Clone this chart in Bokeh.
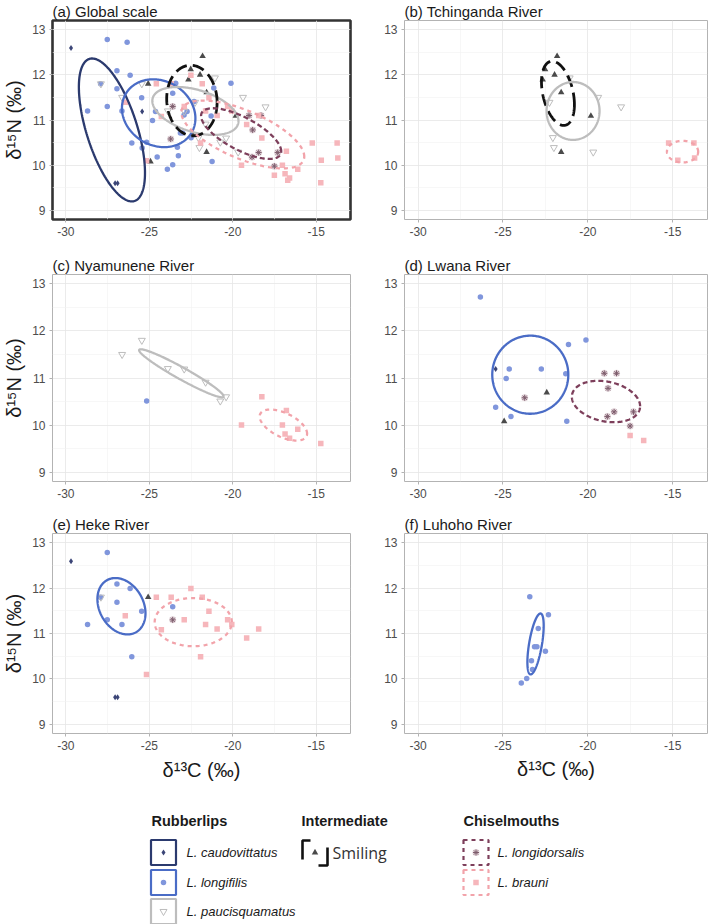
import numpy as np
from bokeh.plotting import figure
from bokeh.layouts import column, row
from bokeh.models import Range1d, FixedTicker
from bokeh.core.properties import value
from bokeh.embed import file_html
from bokeh.resources import INLINE

# ---------------- isotope data per river (d13C, d15N, permil) ----------------
# Tchinganda River
tch_smiling_c = [-21.81, -22.52, -21.96, -22.66, -21.57, -19.82, -21.57]
tch_smiling_n = [12.41, 12.12, 12.00, 11.89, 11.61, 11.09, 10.29]
tch_pauci_c = [-22.06, -22.00, -19.68, -18.04, -19.39, -22.26, -21.07]
tch_pauci_n = [10.61, 10.39, 10.29, 11.29, 11.50, 11.39, 11.93]
tch_brauni_c = [-15.24, -13.75, -14.70, -13.71]
tch_brauni_n = [10.49, 10.49, 10.11, 10.16]

# Nyamunene River
nya_pauci_c = [-25.45, -26.63, -23.89, -22.91, -21.63, -20.75, -20.40]
nya_pauci_n = [11.80, 11.50, 11.20, 11.19, 10.91, 10.51, 10.60]
nya_longi_c = [-25.16]
nya_longi_n = [10.51]
nya_brauni_c = [-18.26, -19.48, -16.79, -17.03, -16.87, -16.11, -16.60, -14.73]
nya_brauni_n = [10.60, 10.00, 10.31, 10.00, 9.81, 9.91, 9.72, 9.61]

# Lwana River
lwa_caudo_c = [-25.43]
lwa_caudo_n = [11.19]
lwa_longi_c = [-26.33, -20.11, -21.14, -24.63, -22.74, -24.81, -21.30, -25.43, -24.53, -21.24]
lwa_longi_n = [12.72, 11.81, 11.71, 11.19, 11.19, 10.99, 11.09, 10.38, 10.18, 10.08]
lwa_smiling_c = [-22.42, -24.93]
lwa_smiling_n = [10.69, 10.08]
lwa_longid_c = [-23.72, -19.03, -18.31, -18.81, -18.45, -18.85, -17.31, -17.51]
lwa_longid_n = [10.58, 11.10, 11.10, 10.78, 10.28, 10.18, 10.28, 9.98]
lwa_brauni_c = [-17.51, -16.71]
lwa_brauni_n = [9.78, 9.67]

# Heke River
hek_caudo_c = [-29.69, -27.05, -26.90]
hek_caudo_n = [12.59, 9.60, 9.60]
hek_longi_c = [-27.52, -26.94, -26.15, -27.92, -26.94, -25.46, -27.52, -26.64, -28.70, -26.05, -23.60]
hek_longi_n = [12.78, 12.09, 11.99, 11.80, 11.69, 11.49, 11.30, 11.20, 11.20, 10.49, 11.59]
hek_pauci_c = [-27.90]
hek_pauci_n = [11.80]
hek_smiling_c = [-25.07]
hek_smiling_n = [11.80]
hek_longid_c = [-23.60]
hek_longid_n = [11.30]
hek_brauni_c = [-24.58, -23.69, -22.51, -21.83, -21.43, -22.91, -26.44, -21.63, -20.31, -20.94,
                -24.28, -19.17, -18.45, -21.93, -25.17, -20.06]
hek_brauni_n = [11.80, 11.80, 11.99, 11.80, 11.49, 11.30, 11.39, 11.20, 11.30, 11.10,
                11.08, 10.90, 11.10, 10.49, 10.10, 11.20]

# Luhoho River
luh_longi_c = [-23.42, -22.32, -22.92, -23.14, -23.00, -22.50, -23.32, -23.60, -23.92, -23.26]
luh_longi_n = [11.81, 11.41, 11.11, 10.71, 10.71, 10.61, 10.40, 10.01, 9.91, 10.21]

# ---------------- standard ellipses: centre, spread and correlation ----------------
ell_panel = ["a", "a", "a", "a", "a", "a", "b", "b", "b", "c", "c", "d", "d", "e", "e", "f"]
ell_species = ["caudo", "longi", "pauci", "smiling", "longid", "brauni",
               "smiling", "pauci", "brauni",
               "pauci", "brauni",
               "longi", "longid",
               "longi", "brauni",
               "longi"]
ell_cx = [-27.24, -24.44, -22.24, -22.45, -19.50, -19.40, -21.76, -20.87, -14.42, -23.08, -16.97, -23.39, -18.93, -26.67, -22.37, -23.08]
ell_cy = [10.78, 11.15, 11.20, 11.43, 10.70, 10.68, 11.59, 11.20, 10.30, 11.10, 10.00, 11.07, 10.50, 11.60, 11.25, 10.77]
ell_sx = [1.98, 2.20, 2.58, 1.51, 2.40, 3.68, 0.97, 1.56, 0.92, 2.53, 1.42, 2.24, 2.01, 1.44, 2.31, 0.48]
ell_sy = [1.58, 0.75, 0.53, 0.78, 0.56, 0.75, 0.71, 0.64, 0.24, 0.51, 0.33, 0.83, 0.44, 0.62, 0.53, 0.67]
ell_rho = [-0.60, -0.15, -0.42, -0.05, -0.70, -0.65, -0.35, 0.0, 0.0, -0.96, -0.55, 0.0, -0.23, -0.25, 0.0, 0.60]

x_ticks = [-30, -25, -20, -15]
y_ticks = [9, 10, 11, 12, 13]

FONT = "Liberation Sans"

POINT_STYLE = {
    "caudo": dict(marker="diamond", size=6, fill_color="#3b4577", line_color=None),
    "longi": dict(marker="circle", size=5.5, fill_color="#8096dc", line_color=None),
    "pauci": dict(marker="inverted_triangle", size=7, fill_color=None, line_color="#bdbdbd", line_width=1),
    "smiling": dict(marker="triangle", size=6.5, fill_color="#4a4a4a", line_color=None),
    "brauni": dict(marker="square", size=5.5, fill_color="#f6b6bb", line_color=None),
}

ELL_STYLE = {
    "caudo": dict(line_color="#2b3a6e", line_width=2.3, line_dash="solid"),
    "longi": dict(line_color="#4a6cc6", line_width=2.3, line_dash="solid"),
    "pauci": dict(line_color="#bdbdbd", line_width=2.3, line_dash="solid"),
    "smiling": dict(line_color="#111111", line_width=2.8, line_dash="12 6"),
    "longid": dict(line_color="#7d3f5b", line_width=2.3, line_dash="5 3"),
    "brauni": dict(line_color="#f2a3aa", line_width=2.3, line_dash="4 4"),
}


def cat(*lists):
    return [v for lst in lists for v in lst]


# groups drawn in each panel: (species, d13C list, d15N list)
panel_points = {
    "b": [("pauci", tch_pauci_c, tch_pauci_n), ("smiling", tch_smiling_c, tch_smiling_n),
          ("brauni", tch_brauni_c, tch_brauni_n)],
    "c": [("longi", nya_longi_c, nya_longi_n), ("pauci", nya_pauci_c, nya_pauci_n),
          ("brauni", nya_brauni_c, nya_brauni_n)],
    "d": [("caudo", lwa_caudo_c, lwa_caudo_n), ("longi", lwa_longi_c, lwa_longi_n),
          ("smiling", lwa_smiling_c, lwa_smiling_n), ("longid", lwa_longid_c, lwa_longid_n),
          ("brauni", lwa_brauni_c, lwa_brauni_n)],
    "e": [("caudo", hek_caudo_c, hek_caudo_n), ("longi", hek_longi_c, hek_longi_n),
          ("pauci", hek_pauci_c, hek_pauci_n), ("smiling", hek_smiling_c, hek_smiling_n),
          ("longid", hek_longid_c, hek_longid_n), ("brauni", hek_brauni_c, hek_brauni_n)],
    "f": [("longi", luh_longi_c, luh_longi_n)],
}

# the global panel pools every river
panel_points["a"] = [
    ("caudo", cat(lwa_caudo_c, hek_caudo_c), cat(lwa_caudo_n, hek_caudo_n)),
    ("longi", cat(nya_longi_c, lwa_longi_c, hek_longi_c, luh_longi_c),
              cat(nya_longi_n, lwa_longi_n, hek_longi_n, luh_longi_n)),
    ("pauci", cat(tch_pauci_c, nya_pauci_c, hek_pauci_c), cat(tch_pauci_n, nya_pauci_n, hek_pauci_n)),
    ("smiling", cat(tch_smiling_c, lwa_smiling_c, hek_smiling_c), cat(tch_smiling_n, lwa_smiling_n, hek_smiling_n)),
    ("longid", cat(lwa_longid_c, hek_longid_c), cat(lwa_longid_n, hek_longid_n)),
    ("brauni", cat(tch_brauni_c, nya_brauni_c, lwa_brauni_c, hek_brauni_c),
               cat(tch_brauni_n, nya_brauni_n, lwa_brauni_n, hek_brauni_n)),
]


def draw_points(p, sp, xs, ys):
    if sp == "longid":
        p.scatter(xs, ys, marker="circle", size=7, fill_color="#dccbd1", fill_alpha=0.8, line_color=None)
        p.scatter(xs, ys, marker="asterisk", size=6, line_color="#7d5c6c", line_width=1)
    else:
        p.scatter(xs, ys, **POINT_STYLE[sp])


def draw_ellipse(p, i):
    t = np.linspace(0, 2 * np.pi, 240)
    r = ell_rho[i]
    xs = ell_cx[i] + ell_sx[i] * np.cos(t)
    ys = ell_cy[i] + ell_sy[i] * (r * np.cos(t) + np.sqrt(1 - r * r) * np.sin(t))
    p.line(xs, ys, **ELL_STYLE[ell_species[i]])


def make_panel(tag, title, w, h, bl, br, bt, bb, ylab, xlab, xlab_standoff=4, thick=False):
    p = figure(width=w, height=h, x_range=Range1d(-30.8, -12.95), y_range=Range1d(8.8, 13.2),
               output_backend="svg", toolbar_location=None,
               min_border_left=bl, min_border_right=br, min_border_top=bt, min_border_bottom=bb)
    p.title.text = title
    p.title.text_font = FONT
    p.title.text_font_size = "15px"
    p.title.text_font_style = "normal"
    p.title.text_color = "#1a1a1a"
    p.title.standoff = 1
    p.background_fill_color = "white"
    p.border_fill_color = "white"
    if thick:
        p.outline_line_color = "#333333"
        p.outline_line_width = 2.6
    else:
        p.outline_line_color = "#b3b3b3"
        p.outline_line_width = 1

    p.xaxis.ticker = FixedTicker(ticks=x_ticks, minor_ticks=[-32.5, -27.5, -22.5, -17.5, -12.5])
    p.yaxis.ticker = FixedTicker(ticks=y_ticks, minor_ticks=[8.5, 9.5, 10.5, 11.5, 12.5])
    p.xaxis.major_label_overrides = {v: str(v) for v in x_ticks}
    p.yaxis.major_label_overrides = {v: str(v) for v in y_ticks}
    for ax in (p.xaxis, p.yaxis):
        ax.axis_line_color = None
        ax.major_tick_line_color = "#b3b3b3"
        ax.major_tick_out = 3
        ax.major_tick_in = 0
        ax.minor_tick_line_color = None
        ax.major_label_text_font = FONT
        ax.major_label_text_font_size = "12px"
        ax.major_label_text_color = "#4d4d4d"
        ax.major_label_standoff = 3
        ax.axis_label_text_font = FONT
        ax.axis_label_text_font_size = "20px"
        ax.axis_label_text_font_style = "normal"
        ax.axis_label_text_color = "#1a1a1a"
    if ylab:
        p.yaxis.axis_label = "δ¹⁵N (‰)"
        p.yaxis.axis_label_standoff = 4
    if xlab:
        p.xaxis.axis_label = "δ¹³C (‰)"
        p.xaxis.axis_label_standoff = xlab_standoff

    p.grid.grid_line_color = "#e6e6e6"
    p.grid.grid_line_width = 0.8
    p.grid.minor_grid_line_color = "#f2f2f2"
    p.grid.minor_grid_line_width = 0.6

    for sp, xs, ys in panel_points[tag]:
        draw_points(p, sp, xs, ys)
    for i, pt in enumerate(ell_panel):
        if pt == tag:
            draw_ellipse(p, i)
    return p


pa = make_panel("a", "(a) Global scale", 354, 250, 46, 4, 18, 31, True, False, thick=True)
pb = make_panel("b", "(b) Tchinganda River", 355, 250, 50, 2, 19, 24, False, False)
pc = make_panel("c", "(c) Nyamunene River", 354, 255, 46, 4, 24, 24, True, False)
pd = make_panel("d", "(d) Lwana River", 355, 255, 50, 2, 24, 24, False, False)
pe = make_panel("e", "(e) Heke River", 354, 295, 46, 4, 28, 67, True, True, xlab_standoff=6)
pf = make_panel("f", "(f) Luhoho River", 355, 295, 50, 2, 28, 60, False, True, xlab_standoff=5)

# ---------------- legend ----------------
leg = figure(width=709, height=124, x_range=Range1d(0, 709), y_range=Range1d(924, 800),
             output_backend="svg", toolbar_location=None, x_axis_type=None, y_axis_type=None,
             min_border=0)
leg.outline_line_color = None
leg.grid.visible = False

heads_x = [151, 301, 463]
heads_t = ["Rubberlips", "Intermediate", "Chiselmouths"]
leg.text(x=heads_x, y=[820] * 3, text=heads_t, text_font=value(FONT), text_font_size="14.5px",
         text_font_style="bold", text_color="#1a1a1a", text_baseline="middle", text_align="left")

key_w, key_h = 25, 25
row_y = [852, 882, 911]

# rubberlips keys
rub_sp = ["caudo", "longi", "pauci"]
rub_lab = ["L. caudovittatus", "L. longifilis", "L. paucisquamatus"]
for yk, sp in zip(row_y, rub_sp):
    st = ELL_STYLE[sp]
    leg.rect(x=[163], y=[yk], width=key_w, height=key_h, fill_color="white",
             line_color=st["line_color"], line_width=2.2)
    draw_points(leg, sp, [163], [yk])
leg.text(x=[186] * 3, y=row_y, text=rub_lab, text_font=value(FONT), text_font_size="13px",
         text_font_style="italic", text_color="#1a1a1a", text_baseline="middle")

# intermediate key: long dashes leave two corner brackets
leg.line([302, 302, 310], [859, 840, 840], line_color="#111111", line_width=2.6)
leg.line([318, 327, 327], [865, 865, 847], line_color="#111111", line_width=2.6)
draw_points(leg, "smiling", [314.5], [852])
leg.text(x=[332], y=[852], text=["Smiling"], text_font=value("Open Sans"), text_font_size="16px",
         text_color="#333333", text_baseline="middle")

# chiselmouth keys
chi_sp = ["longid", "brauni"]
chi_lab = ["L. longidorsalis", "L. brauni"]
for yk, sp in zip(row_y[:2], chi_sp):
    st = ELL_STYLE[sp]
    leg.rect(x=[475.5], y=[yk], width=key_w, height=key_h, fill_color="white",
             line_color=st["line_color"], line_width=2.2, line_dash="4 4")
    draw_points(leg, sp, [475.5], [yk])
leg.text(x=[497] * 2, y=row_y[:2], text=chi_lab, text_font=value(FONT), text_font_size="13px",
         text_font_style="italic", text_color="#1a1a1a", text_baseline="middle")

layout = column(row(pa, pb), row(pc, pd), row(pe, pf), leg)

open("out.html", "w").write(file_html(layout, INLINE))
